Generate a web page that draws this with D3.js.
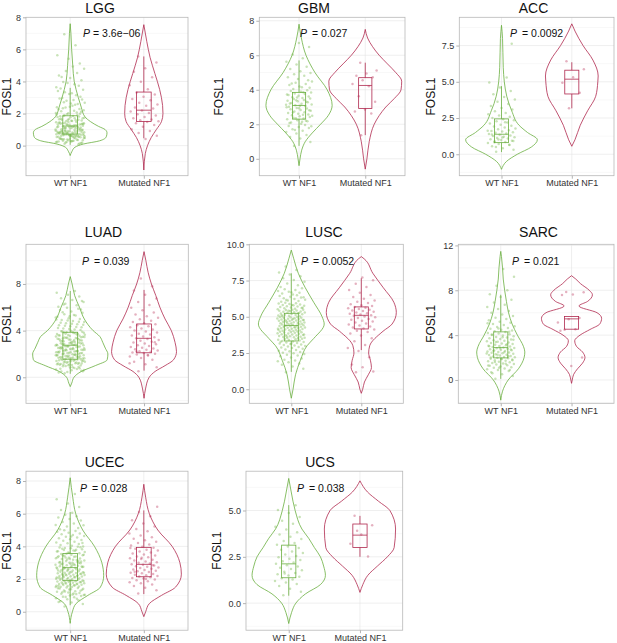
<!DOCTYPE html>
<html>
<head>
<meta charset="utf-8">
<script src="https://cdn.jsdelivr.net/npm/d3@7"></script>
<style>
  body { margin: 0; background: #fff; }
  svg { display: block; }
  text { font-family: "Liberation Sans", Arial, Helvetica, sans-serif; }
</style>
</head>
<body>
<script>
// ---- data ----
const cancers = ['LGG', 'GBM', 'ACC', 'LUAD', 'LUSC', 'SARC', 'UCEC', 'UCS'];
const groups = ['WT NF1', 'Mutated NF1'];
const pValues = ['3.6e\u221206', '0.027', '0.0092', '0.039', '0.0052', '0.021', '0.028', '0.038'];
const yTicks = [
  [0, 2, 4, 6, 8], [0, 2, 4, 6, 8], [0, 2.5, 5, 7.5], [0, 4, 8],
  [0, 2.5, 5, 7.5, 10], [0, 4, 8, 12], [0, 2, 4, 6, 8], [0, 2.5, 5]
];

// box stats: [lower whisker, q1, median, q3, upper whisker]
const boxWT = [
  [0.05, 0.72, 1.22, 1.86, 3.6], [0.75, 2.3, 3.09, 3.85, 5.7], [0.15, 0.8, 1.38, 2.44, 4.7],
  [0.3, 1.55, 2.75, 3.86, 7.4], [1.2, 3.33, 4.4, 5.24, 8.0], [0.1, 1.97, 2.89, 4.29, 7.6],
  [0.4, 1.9, 2.7, 3.57, 6.1], [0.4, 1.37, 2.12, 3.13, 5.29]
];
const boxMut = [
  [0.46, 1.5, 2.21, 3.34, 5.56], [1.37, 2.92, 4.25, 4.7, 5.57], [3.17, 4.16, 5.18, 5.8, 6.35],
  [0.57, 2.1, 3.34, 4.57, 7.49], [2.7, 4.16, 5.1, 5.68, 7.66], [4.53, 4.53, 5.45, 5.66, 5.66],
  [1.08, 2.14, 2.9, 3.94, 6.2], [2.5, 3.0, 3.67, 4.27, 4.71]
];

// violin outlines: [FOSL1, relative half width]
const violinWT = [
  [[-0.62, 0], [-0.35, 0.05], [-0.1, 0.13], [0.1, 0.36], [0.3, 0.8], [0.55, 0.98], [0.8, 1.0], [1.0, 0.95], [1.2, 0.77], [1.5, 0.55], [1.8, 0.4], [2.4, 0.3], [3, 0.22], [3.5, 0.16], [4, 0.11], [5, 0.07], [6, 0.04], [7, 0.02], [7.6, 0]],
  [[-0.4, 0], [0, 0.03], [0.5, 0.08], [1, 0.19], [1.5, 0.4], [2, 0.65], [2.5, 0.88], [3.1, 1.0], [4, 0.85], [5, 0.48], [6, 0.21], [7, 0.07], [7.8, 0]],
  [[-1.04, 0], [-0.5, 0.14], [0, 0.45], [0.5, 0.85], [1.0, 1.02], [1.5, 0.74], [2, 0.5], [3, 0.29], [4, 0.15], [5, 0.08], [6, 0.05], [7, 0.04], [8, 0.03], [8.9, 0]],
  [[-0.8, 0], [-0.5, 0.04], [0, 0.1], [0.5, 0.3], [1, 0.68], [1.5, 1.0], [2, 1.02], [2.5, 0.95], [3, 0.88], [3.5, 0.8], [4, 0.62], [5, 0.38], [6, 0.25], [7, 0.12], [8, 0.05], [8.63, 0]],
  [[-0.62, 0], [0, 0.05], [1, 0.12], [2, 0.26], [3, 0.45], [3.5, 0.64], [4.5, 0.94], [5, 0.88], [6, 0.64], [7, 0.4], [8, 0.2], [9, 0.07], [9.6, 0]],
  [[-1.8, 0], [-1, 0.05], [0, 0.21], [1, 0.5], [2, 0.66], [2.5, 0.68], [3, 0.64], [4, 0.47], [5, 0.32], [6, 0.22], [7, 0.16], [8, 0.11], [9, 0.07], [10, 0.05], [11, 0.02], [11.47, 0]],
  [[-0.71, 0], [0, 0.06], [0.5, 0.16], [1, 0.48], [1.5, 0.82], [2.2, 0.91], [3, 0.86], [4, 0.66], [5, 0.34], [6, 0.15], [7, 0.07], [8.2, 0]],
  [[-1.1, 0], [-0.5, 0.08], [0, 0.2], [0.5, 0.47], [1, 0.89], [1.5, 1.03], [2, 0.98], [2.5, 0.89], [3, 0.72], [3.5, 0.56], [4, 0.37], [5, 0.18], [6, 0.07], [6.73, 0]]
];
const violinMut = [
  [[-1.52, 0], [-0.5, 0.04], [0, 0.1], [0.5, 0.2], [1, 0.34], [1.5, 0.48], [2, 0.52], [2.5, 0.51], [3.5, 0.43], [4.5, 0.3], [5.5, 0.17], [6.5, 0.08], [7.54, 0]],
  [[-0.6, 0], [0, 0.05], [1, 0.12], [2, 0.27], [2.5, 0.42], [3, 0.62], [3.5, 0.88], [4, 1.08], [4.5, 1.1], [5, 0.92], [5.5, 0.67], [6, 0.42], [6.5, 0.22], [7, 0.07], [7.5, 0]],
  [[0.55, 0], [1, 0.09], [2, 0.24], [3, 0.45], [4, 0.68], [5, 0.74], [5.4, 0.75], [6.5, 0.6], [7.5, 0.32], [8.5, 0.09], [9, 0]],
  [[-1.8, 0], [-1, 0.04], [0, 0.14], [0.5, 0.3], [1, 0.57], [1.5, 0.8], [2.2, 0.88], [3, 0.84], [4, 0.74], [5, 0.57], [6, 0.43], [7, 0.32], [8, 0.2], [9, 0.11], [10, 0.05], [10.77, 0]],
  [[-0.28, 0], [0, 0.04], [0.5, 0.09], [1, 0.2], [1.5, 0.29], [2, 0.26], [2.5, 0.21], [3, 0.24], [4, 0.62], [4.5, 0.88], [5.3, 1.0], [6, 0.93], [7, 0.63], [8, 0.33], [9, 0.08], [9.15, 0]],
  [[-0.3, 0], [0, 0.02], [0.5, 0.06], [1, 0.17], [1.5, 0.31], [2, 0.38], [2.5, 0.31], [3, 0.14], [3.5, 0.09], [4, 0.24], [4.5, 0.52], [5, 0.8], [5.5, 0.85], [6, 0.72], [6.6, 0.21], [7, 0.45], [7.6, 0.59], [8, 0.5], [8.6, 0.25], [9, 0.12], [9.3, 0]],
  [[-0.3, 0], [0, 0.05], [0.5, 0.15], [1, 0.48], [1.5, 0.86], [2.3, 1.02], [3, 0.98], [4, 0.77], [5, 0.38], [6, 0.15], [7, 0.05], [7.8, 0]],
  [[0.58, 0], [1, 0.08], [1.5, 0.22], [2, 0.49], [2.5, 0.77], [3, 0.96], [4, 1.0], [5, 0.84], [5.5, 0.52], [6, 0.21], [6.6, 0]]
];

// individual samples (FOSL1)
const lggWT = [0.12,0.34,0.27,0.45,0.08,0.38,0.21,0.49,0.31,0.16,0.43,0.26,0.37,0.19,0.47,0.29,0.41,0.14,0.33,0.24,0.46,0.39,0.18,0.28,0.44,0.35,0.22,0.48,0.3,0.4,
  0.52,0.67,0.81,0.59,0.93,0.74,0.62,0.88,0.55,0.79,0.71,0.97,0.64,0.85,0.58,0.76,0.91,0.69,0.83,0.53,0.72,0.95,0.66,0.87,0.61,0.78,0.99,0.7,0.84,0.57,0.75,0.92,0.63,0.8,0.68,0.89,0.56,0.77,0.94,0.65,0.82,0.6,0.73,0.9,0.54,0.86,0.7,0.96,0.62,0.79,0.67,0.84,0.58,0.75,0.91,
  1.03,1.18,1.32,1.09,1.41,1.24,1.12,1.37,1.05,1.29,1.46,1.15,1.21,1.34,1.07,1.43,1.26,1.11,1.39,1.19,1.02,1.31,1.48,1.14,1.27,1.08,1.36,1.22,1.44,1.16,1.33,1.01,1.25,1.4,1.13,1.3,1.2,1.47,1.1,1.35,
  1.53,1.68,1.82,1.59,1.94,1.71,1.87,1.56,1.77,1.64,1.91,1.52,1.73,1.85,1.61,1.98,1.66,1.79,1.58,1.89,1.7,1.55,1.83,1.62,1.96,
  2.04,2.18,2.33,2.11,2.42,2.26,2.07,2.37,2.21,2.48,2.14,2.29,2.02,2.4,
  2.55,2.71,2.88,2.63,2.94,2.59,2.79,2.67,2.84,2.97,
  3.05,3.22,3.41,3.14,3.33,3.48,3.27,3.56,3.73,3.91,3.64,3.82,3.97,
  4.08,4.21,4.37,4.52,4.66,4.79,4.93,4.28,5.12,5.41,5.63,6.25,6.94];
const lggMut = [5.56,5.18,4.82,4.61,4.27,3.98,3.77,3.52,3.31,3.18,3.04,2.91,2.83,2.68,2.57,2.49,2.38,2.31,2.19,2.12,2.03,1.96,1.88,1.79,1.71,1.63,1.58,1.52,1.47,1.39,1.28,1.17,1.02,0.91,0.78,0.62,0.41];
const gbmWT = [0.74,0.98,1.17,1.26,1.38,1.47,
  1.55,1.62,1.71,1.78,1.84,1.9,1.96,1.67,1.88,
  2.03,2.11,2.18,2.24,2.29,2.33,2.38,2.42,2.46,2.07,2.21,2.35,2.49,2.15,
  2.52,2.57,2.61,2.66,2.7,2.74,2.79,2.83,2.87,2.91,2.95,2.99,2.55,2.68,2.81,2.93,
  3.02,3.06,3.11,3.15,3.19,3.24,3.28,3.33,3.37,3.41,3.46,3.49,3.08,3.21,3.3,3.39,3.13,
  3.52,3.57,3.61,3.66,3.7,3.75,3.79,3.84,3.88,3.93,3.97,3.55,3.72,3.86,
  4.04,4.12,4.19,4.27,4.33,4.41,4.48,4.15,4.36,
  4.55,4.63,4.72,4.81,4.9,4.97,5.08,5.21,5.34,5.46,5.63,5.82,6.05,6.48,6.71];
const gbmMut = [5.57,5.12,4.94,4.81,4.72,4.55,4.33,4.21,3.62,3.31,2.86,2.74,2.63,1.37];
const accWT = [0.18,0.31,0.42,0.55,0.63,0.71,0.78,0.85,0.89,0.94,0.99,1.04,1.08,1.13,1.17,1.21,1.26,1.3,1.34,1.39,1.43,1.48,1.52,1.57,1.61,1.66,1.72,1.78,1.84,1.91,1.97,2.04,2.12,2.19,2.27,2.35,2.42,2.5,2.58,2.67,2.76,2.85,2.96,3.08,3.2,3.33,3.47,3.62,3.78,3.95,4.14,4.36,4.6,4.95,5.3,0.5,0.92,1.15,1.36,0.66,1.01,1.62,2.2,0.83,7.62];
const accMut = [6.42,5.86,5.31,4.93,4.24,3.18];
const luadWT = [0.34,0.52,0.61,0.73,0.88,0.45,0.67,0.79,0.94,0.57,0.83,0.41,0.7,0.96,0.63,0.86,0.5,0.77,
  1.03,1.12,1.21,1.29,1.38,1.46,1.07,1.16,1.25,1.33,1.42,1.49,1.01,1.1,1.19,1.27,1.36,1.44,1.05,1.14,1.23,1.31,1.4,1.48,1.09,1.18,1.35,1.45,
  1.52,1.58,1.63,1.69,1.74,1.8,1.85,1.91,1.96,1.55,1.61,1.66,1.72,1.77,1.83,1.88,1.94,1.99,1.53,1.6,1.68,1.75,1.82,1.89,1.97,1.57,1.64,1.71,1.86,1.93,
  2.03,2.09,2.14,2.2,2.26,2.31,2.37,2.42,2.48,2.05,2.11,2.17,2.23,2.29,2.34,2.4,2.46,2.01,2.08,2.15,2.22,2.28,2.35,2.43,2.12,2.25,2.38,2.49,
  2.52,2.58,2.63,2.69,2.74,2.8,2.86,2.91,2.97,2.55,2.61,2.66,2.72,2.77,2.83,2.89,2.94,2.51,2.59,2.67,2.75,2.84,2.92,2.99,2.64,2.79,
  3.03,3.09,3.15,3.21,3.27,3.33,3.39,3.45,3.06,3.12,3.18,3.24,3.3,3.36,3.42,3.48,3.01,3.14,3.26,3.38,3.49,3.2,3.32,3.44,
  3.53,3.6,3.67,3.74,3.81,3.88,3.95,3.56,3.63,3.7,3.77,3.84,3.91,3.98,3.58,3.72,3.86,3.65,3.79,3.93,
  4.05,4.14,4.23,4.32,4.41,4.5,4.59,4.68,4.77,4.86,4.95,4.09,4.19,4.28,4.37,4.46,4.55,4.64,4.73,4.82,4.91,4.99,
  5.06,5.18,5.29,5.41,5.53,5.64,5.76,5.88,5.97,5.12,5.35,5.58,5.81,5.23,
  6.04,6.17,6.31,6.46,6.62,6.78,6.93,7.08,7.24,7.39,6.25,6.55];
const luadMut = [0.52,0.86,1.12,1.34,1.51,1.66,1.78,1.87,1.95,2.02,2.08,2.13,2.19,2.24,2.3,2.36,2.41,2.47,2.53,2.6,2.68,2.75,2.83,2.9,2.98,3.05,3.13,3.2,3.28,3.35,3.43,3.5,3.58,3.66,3.74,3.83,3.92,4.01,4.1,4.19,4.28,4.37,4.46,4.55,4.64,4.74,4.85,4.97,5.1,5.24,5.39,5.56,5.75,5.97,6.2,6.46,6.75,7.08,7.45,7.8,8.46,1.21,1.92,2.22,3.0];
const luscWT = [1.18,1.42,1.57,1.69,1.77,1.86,1.93,1.99,
  2.04,2.12,2.19,2.27,2.33,2.38,2.44,2.49,
  2.52,2.57,2.62,2.66,2.71,2.75,2.8,2.84,2.88,2.92,2.95,2.98,
  3.02,3.05,3.09,3.12,3.16,3.19,3.23,3.26,3.3,3.33,3.36,3.39,3.42,3.45,3.47,3.49,3.14,3.28,
  3.51,3.53,3.56,3.58,3.61,3.63,3.66,3.68,3.71,3.73,3.75,3.78,3.8,3.82,3.85,3.87,3.89,3.91,3.93,3.95,3.97,3.99,3.64,3.77,
  4.01,4.03,4.05,4.07,4.09,4.11,4.13,4.15,4.18,4.2,4.22,4.24,4.26,4.28,4.3,4.32,4.34,4.36,4.38,4.4,4.42,4.44,4.46,4.48,4.49,4.17,4.27,4.37,
  4.51,4.53,4.55,4.57,4.59,4.61,4.63,4.65,4.68,4.7,4.72,4.74,4.76,4.78,4.8,4.82,4.84,4.86,4.88,4.9,4.92,4.94,4.96,4.98,4.99,4.67,4.77,4.87,
  5.02,5.04,5.07,5.09,5.12,5.14,5.17,5.19,5.22,5.24,5.27,5.29,5.32,5.34,5.37,5.39,5.42,5.44,5.46,5.48,5.49,5.11,5.26,5.41,
  5.52,5.55,5.58,5.61,5.64,5.67,5.7,5.73,5.76,5.79,5.82,5.85,5.88,5.91,5.94,5.97,5.63,5.81,
  6.03,6.08,6.13,6.18,6.23,6.28,6.33,6.38,6.43,6.48,6.15,6.35,
  6.54,6.6,6.66,6.72,6.78,6.84,6.9,6.96,6.69,
  7.05,7.17,7.29,7.41,7.53,7.66,7.79,7.92,8.06,8.23,8.47];
const luscMut = [1.18,1.23,1.52,1.71,2.21,2.63,2.84,3.06,3.31,3.52,3.7,3.84,3.95,4.04,4.12,4.19,4.26,4.33,4.4,4.47,4.54,4.6,4.67,4.73,4.79,4.85,4.91,4.97,5.02,5.07,5.11,5.15,5.2,5.24,5.29,5.34,5.39,5.44,5.49,5.54,5.59,5.63,5.68,5.74,5.8,5.87,5.95,6.04,6.13,6.24,6.36,6.5,6.66,6.84,7.05,7.28,7.52,7.71];
const sarcWT = [0.12,0.35,0.52,0.68,0.79,0.88,0.95,1.02,1.08,1.14,1.2,1.26,1.31,1.37,1.42,1.47,1.52,1.57,1.62,1.67,1.72,1.77,1.82,1.86,1.9,1.94,1.98,2.02,2.06,2.1,2.14,2.18,2.22,2.26,2.3,2.34,2.38,2.42,2.46,2.5,2.54,2.58,2.62,2.66,2.7,2.74,2.78,2.82,2.86,2.9,2.94,2.98,3.02,3.06,3.1,3.15,3.2,3.25,3.3,3.35,3.4,3.45,3.5,3.55,3.6,3.66,3.72,3.78,3.84,3.9,3.96,4.02,4.08,4.14,4.2,4.27,4.34,4.41,4.48,4.56,4.64,4.72,4.8,4.9,5.0,5.1,5.2,5.32,5.44,5.56,5.7,5.85,6.0,6.15,6.32,6.5,6.7,6.92,7.15,7.4,7.65,8.0,8.4,9.2,9.9,
  0.6,0.9,1.1,1.3,1.45,1.6,1.75,1.88,2.0,2.12,2.24,2.36,2.48,2.6,2.72,2.84,3.0,3.18,3.38,3.58,3.8,4.05,4.3,4.6,5.05];
const sarcMut = [7.84,7.82,7.62,7.58,5.52,5.41,5.12,4.52,4.48,2.0,1.24,4.4];
const ucecWT = [0.32,0.48,0.57,0.64,0.71,0.77,0.83,0.88,0.92,0.96,0.99,0.6,0.8,0.9,
  1.02,1.06,1.1,1.14,1.18,1.22,1.26,1.3,1.34,1.38,1.42,1.46,1.49,1.04,1.12,1.2,1.28,1.36,1.44,1.08,1.24,1.4,
  1.51,1.53,1.55,1.57,1.59,1.61,1.63,1.65,1.67,1.69,1.71,1.73,1.75,1.77,1.79,1.81,1.83,1.85,1.87,1.89,1.91,1.93,1.95,1.97,1.99,1.52,1.62,1.72,1.82,1.92,1.58,1.68,1.78,1.88,
  2.01,2.03,2.05,2.07,2.09,2.11,2.13,2.15,2.17,2.19,2.21,2.23,2.25,2.27,2.29,2.31,2.33,2.35,2.37,2.39,2.41,2.43,2.45,2.47,2.49,2.02,2.12,2.22,2.32,2.42,2.08,2.18,2.28,2.38,
  2.52,2.55,2.58,2.61,2.64,2.67,2.7,2.73,2.76,2.79,2.82,2.85,2.88,2.91,2.94,2.97,2.99,2.53,2.6,2.68,2.75,2.83,2.9,2.98,2.57,2.71,2.86,2.62,2.77,2.93,
  3.02,3.06,3.1,3.14,3.18,3.22,3.26,3.3,3.34,3.38,3.42,3.46,3.49,3.04,3.12,3.2,3.28,3.36,3.44,3.08,3.24,3.4,3.16,3.32,3.48,3.0,
  3.53,3.58,3.63,3.68,3.73,3.78,3.83,3.88,3.93,3.98,3.55,3.65,3.75,3.85,3.95,3.6,3.7,3.8,3.9,3.99,
  4.04,4.09,4.14,4.19,4.24,4.29,4.34,4.39,4.44,4.49,4.54,4.59,4.64,4.69,4.74,4.79,4.84,4.89,4.94,4.99,4.2,4.6,
  5.05,5.13,5.22,5.31,5.4,5.49,5.58,5.67,5.76,5.85,5.94,5.3,
  6.05,6.22,6.41,6.63,6.88,7.2];
const ucecMut = [1.12,1.31,1.47,1.58,1.66,1.74,1.81,1.87,1.93,1.98,2.03,2.07,2.11,2.15,2.19,2.23,2.27,2.31,2.35,2.39,2.43,2.47,2.51,2.55,2.59,2.63,2.67,2.71,2.75,2.79,2.83,2.87,2.91,2.95,2.99,3.03,3.08,3.13,3.18,3.23,3.28,3.33,3.38,3.44,3.5,3.56,3.62,3.68,3.74,3.8,3.86,3.92,3.98,4.05,4.12,4.2,4.28,4.37,4.46,4.56,4.67,4.79,4.92,5.06,5.22,5.4,5.6,5.85,6.1,6.42,2.0,2.45,2.85,3.3,3.9];
const ucsWT = [0.42,0.61,0.78,0.92,1.03,1.12,1.2,1.28,1.35,1.42,1.49,1.56,1.63,1.7,1.77,1.84,1.91,1.98,2.05,2.12,2.19,2.26,2.33,2.4,2.47,2.55,2.63,2.71,2.79,2.88,2.97,3.06,3.15,3.25,3.35,3.46,3.58,3.7,3.83,3.97,4.12,4.28,4.45,4.65,4.87,5.02,5.28,1.6];
const ucsMut = [4.71, 4.2, 3.7, 3.2, 2.52, 3.9];

const pointsWT = [lggWT, gbmWT, accWT, luadWT, luscWT, sarcWT, ucecWT, ucsWT];
const pointsMut = [lggMut, gbmMut, accMut, luadMut, luscMut, sarcMut, ucecMut, ucsMut];

// ---- layout (pixel positions of each facet) ----
const layout = [
  { x0: 26, x1: 188, y0: 17.3, y1: 175.7, ylo: -1.875, yhi: 8.0, tx: 100, ty: 13, px: 83, py: 36.7, yt: 7 },
  { x0: 259.3, x1: 405, y0: 17.3, y1: 175.7, ylo: -0.98, yhi: 8.2, tx: 314, ty: 13, px: 300, py: 36.7, yt: 219 },
  { x0: 459.3, x1: 614, y0: 17.3, y1: 175.7, ylo: -1.48, yhi: 9.45, tx: 533.5, ty: 13, px: 510, py: 36.7, yt: 431 },
  { x0: 26, x1: 188.3, y0: 244.3, y1: 403.3, ylo: -2.23, yhi: 11.4, tx: 103.5, ty: 237, px: 82, py: 264.5, yt: 7 },
  { x0: 249.3, x1: 403.3, y0: 244.3, y1: 403.3, ylo: -0.97, yhi: 10.0, tx: 324, ty: 237, px: 301, py: 264.5, yt: 217 },
  { x0: 458.3, x1: 614, y0: 244.3, y1: 403.3, ylo: -2.08, yhi: 12.1, tx: 538.5, ty: 237, px: 512, py: 264.5, yt: 431 },
  { x0: 26, x1: 188, y0: 471.2, y1: 630.2, ylo: -1.13, yhi: 8.6, tx: 104.5, ty: 467, px: 80, py: 492, yt: 7 },
  { x0: 246, x1: 402.7, y0: 471.2, y1: 630.2, ylo: -1.46, yhi: 7.12, tx: 320, ty: 467, px: 297, py: 492, yt: 217 }
];

const lineColors = ['#6aae3f', '#b0284e'];
const pointColors = ['#7fbd55', '#c0456a'];

const width = 617;
const height = 643;

const svg = d3.select('body')
  .append('svg')
  .attr('width', width)
  .attr('height', height);

// spread samples sideways like geom_jitter, but reproducibly
const jitter = (j) => (((j * 0.6180339887 + 0.31) % 1) - 0.5) * 0.4;

function drawPanel(i) {
  const L = layout[i];
  const g = svg.append('g');

  const x = d3.scalePoint().domain(groups).range([L.x0, L.x1]).padding(0.6);
  const step = x.step();
  const y = d3.scaleLinear().domain([L.ylo, L.yhi]).range([L.y1, L.y0]);

  const ticks = yTicks[i];
  const tStep = ticks[1] - ticks[0];
  const minor = d3.range(ticks[0] - tStep / 2, ticks[ticks.length - 1] + tStep, tStep)
    .filter((v) => v > L.ylo && v < L.yhi);

  // grid
  g.append('g').selectAll('line').data(minor).join('line')
    .attr('x1', L.x0).attr('x2', L.x1)
    .attr('y1', (d) => y(d)).attr('y2', (d) => y(d))
    .attr('stroke', '#f1f1f1').attr('stroke-width', 0.5);
  g.append('g').selectAll('line').data(ticks.filter((v) => v < L.yhi)).join('line')
    .attr('x1', L.x0).attr('x2', L.x1)
    .attr('y1', (d) => y(d)).attr('y2', (d) => y(d))
    .attr('stroke', '#e4e4e4').attr('stroke-width', 0.6);
  g.append('g').selectAll('line').data(groups).join('line')
    .attr('x1', (d) => x(d)).attr('x2', (d) => x(d))
    .attr('y1', L.y0).attr('y2', L.y1)
    .attr('stroke', '#e4e4e4').attr('stroke-width', 0.6);

  groups.forEach((grp, k) => {
    const cx = x(grp);
    const violin = [violinWT, violinMut][k][i];
    const pts = [pointsWT, pointsMut][k][i];
    const b = [boxWT, boxMut][k][i];

    const area = d3.area()
      .curve(d3.curveMonotoneY)
      .y((d) => y(d[0]))
      .x0((d) => cx - d[1] * 0.5 * step)
      .x1((d) => cx + d[1] * 0.5 * step);

    g.append('path')
      .datum(violin)
      .attr('d', area)
      .attr('fill', 'none')
      .attr('stroke', lineColors[k])
      .attr('stroke-width', 0.8);

    g.append('g').selectAll('circle').data(pts).join('circle')
      .attr('cx', (d, j) => cx + jitter(j) * step)
      .attr('cy', (d) => y(d))
      .attr('r', 1.25)
      .attr('fill', pointColors[k])
      .attr('fill-opacity', 0.42);

    const bw = 0.1 * step;
    const box = g.append('g')
      .attr('stroke', lineColors[k])
      .attr('stroke-width', 0.8)
      .attr('fill', 'none');
    box.append('line').attr('x1', cx).attr('x2', cx).attr('y1', y(b[0])).attr('y2', y(b[1]));
    box.append('line').attr('x1', cx).attr('x2', cx).attr('y1', y(b[3])).attr('y2', y(b[4]));
    box.append('rect')
      .attr('x', cx - bw).attr('width', 2 * bw)
      .attr('y', y(b[3])).attr('height', y(b[1]) - y(b[3]));
    box.append('line').attr('x1', cx - bw).attr('x2', cx + bw).attr('y1', y(b[2])).attr('y2', y(b[2]));
  });

  // panel border
  g.append('rect')
    .attr('x', L.x0).attr('y', L.y0)
    .attr('width', L.x1 - L.x0).attr('height', L.y1 - L.y0)
    .attr('fill', 'none').attr('stroke', '#b8b8b8').attr('stroke-width', 0.8);

  const fmt = ticks.some((t) => t % 1) ? d3.format('.1f') : d3.format('d');
  const yAxis = g.append('g')
    .attr('transform', `translate(${L.x0},0)`)
    .call(d3.axisLeft(y).tickValues(ticks).tickFormat(fmt).tickSize(3).tickPadding(2));
  const xAxis = g.append('g')
    .attr('transform', `translate(0,${L.y1})`)
    .call(d3.axisBottom(x).tickSize(3).tickPadding(1));
  [yAxis, xAxis].forEach((ax) => {
    ax.select('.domain').remove();
    ax.selectAll('line').attr('stroke', '#b3b3b3');
    ax.selectAll('text').attr('fill', '#333').style('font-size', '9px');
  });

  g.append('text')
    .attr('x', L.tx).attr('y', L.ty)
    .attr('text-anchor', 'middle')
    .style('font-size', '14px')
    .attr('fill', '#111')
    .text(cancers[i]);

  g.append('text')
    .attr('transform', `translate(${L.yt},${(L.y0 + L.y1) / 2}) rotate(-90)`)
    .attr('text-anchor', 'middle')
    .attr('dy', '0.35em')
    .style('font-size', '12px')
    .attr('fill', '#111')
    .text('FOSL1');

  const p = g.append('text')
    .attr('x', L.px).attr('y', L.py)
    .style('font-size', '10.5px')
    .attr('fill', '#111');
  p.append('tspan').style('font-style', 'italic').text('P');
  p.append('tspan')
    .attr('dx', i === 0 ? 3 : 5)
    .text('= ' + pValues[i]);
}

cancers.forEach((c, i) => drawPanel(i));
</script>
</body>
</html>
